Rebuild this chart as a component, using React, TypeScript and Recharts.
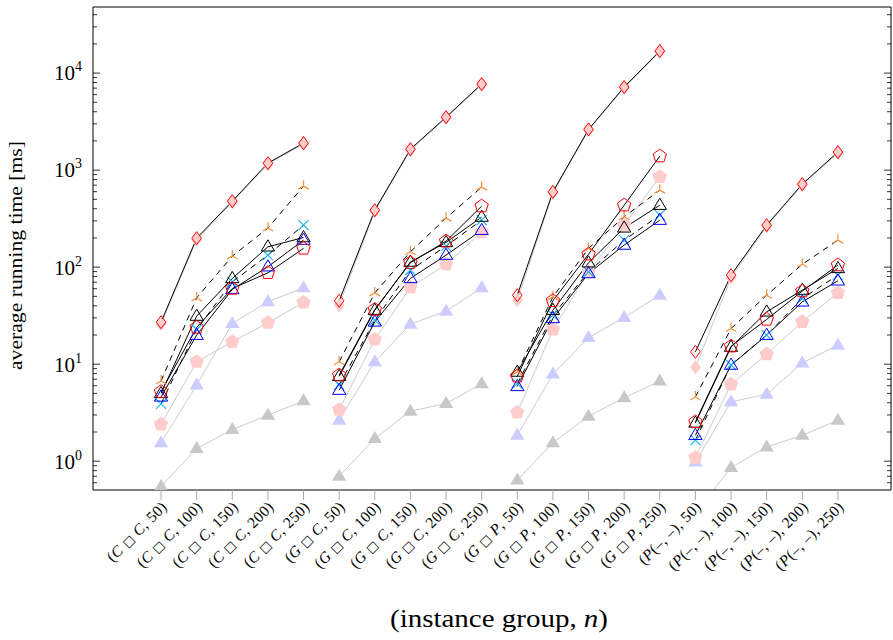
import React from 'react'
import { LineChart, Line, XAxis, YAxis, Label } from 'recharts'

// instance groups and sizes (x categories)
const groups = ['C □ C', 'G □ C', 'G □ P', 'P(–, –)']
const sizes = [50, 100, 150, 200, 250]

// running times [ms], 20 values per series (4 groups x 5 sizes)
const redDiamond = [27.1, 199, 479, 1180, 1900, 45, 387, 1645, 3520, 7710, 51.4, 597, 2630, 7180, 16900, 13.4, 82.7, 271, 718, 1535]
const pinkDiamond = [26, 192, 465, 1150, 1860, 40.5, 375, 1600, 3450, 7550, 45.7, 580, 2570, 7050, 16600, 9.3, 78, 262, 700, 1500]
const redPentagon = [5.2, 23.9, 60.3, 87.4, 156, 7.7, 36.6, 111, 185, 425, 7.5, 45, 136, 435, 1394, 2.54, 15.3, 28.9, 56.6, 105]
const pinkPentagon = [2.4, 10.6, 17.0, 26.7, 43.3, 3.4, 18, 61.8, 107, 230, 3.18, 22.8, 89.5, 271, 853, 1.09, 6.2, 12.7, 27.3, 54.3]
const blueTriangle = [4.6, 19.9, 58.9, 101, 190, 5.4, 27.3, 76.5, 133, 240, 5.9, 29.6, 86, 169, 305, 1.85, 9.8, 19.9, 43.9, 72.3]
const lavTriangle = [1.55, 6.1, 26.3, 43.9, 61.2, 2.65, 10.6, 25.8, 35.2, 61.2, 1.85, 7.9, 18.8, 30.3, 51.4, 0.98, 4.1, 4.9, 10.3, 15.7]
const blackTriangle = [5.0, 31.3, 76.5, 162, 202, 7.5, 36, 113, 180, 328, 8.3, 36, 111, 254, 435, 2.48, 15, 34.6, 58, 97]
const grayTriangle = [0.55, 1.35, 2.12, 2.98, 4.19, 0.7, 1.71, 3.28, 3.93, 6.3, 0.64, 1.55, 2.91, 4.5, 6.7, 0.29, 0.86, 1.4, 1.85, 2.65]
const cyanCross = [3.9, 22.8, 70.6, 133, 271, 6.1, 28.4, 93, 165, 305, 6.3, 32, 89.5, 190, 344, 1.65, 9.8, 19.9, 47.6, 82.7]
const orangeStar = [6.7, 48.2, 130, 253, 684, 10.6, 54.3, 144, 320, 668, 8.3, 49.4, 156, 330, 622, 4.6, 23.3, 51.4, 107, 190]

const yMajor = [1, 10, 100, 1000, 10000]

const SERIES: Record<string, number[]> = {
  redDiamond, pinkDiamond, redPentagon, pinkPentagon, blueTriangle,
  lavTriangle, blackTriangle, grayTriangle, cyanCross, orangeStar,
}

// one row per category, with an empty row between groups so lines break
const rows: any[] = []
for (let i = 0; i < groups.length * sizes.length; i++) {
  if (i > 0 && i % sizes.length === 0) rows.push({ x: i - 0.5 })
  const r: any = { x: i }
  for (const k of Object.keys(SERIES)) r[k] = SERIES[k][i]
  rows.push(r)
}

const xTicks = rows.filter(r => Number.isInteger(r.x)).map(r => r.x)
const yTicks: number[] = []
for (const m of [0.6, 0.7, 0.8, 0.9]) yTicks.push(m)
for (const p of yMajor) for (let m = 1; m <= 9; m++) if (p * m < 48000) yTicks.push(p * m)

const FONT = '"Liberation Serif", "DejaVu Serif", serif'
const X_DOMAIN = [-1.91, 20.49]
const Y_DOMAIN = [0.505, 48000]

const mark = (draw: (cx: number, cy: number) => React.ReactNode) => (p: any) => {
  const { cx, cy, value, index } = p
  if (cx == null || cy == null || value == null || !isFinite(cy)) return <g key={index} />
  return <g key={index}>{draw(cx, cy)}</g>
}

const diamond = (cx: number, cy: number) => `${cx},${cy - 6.5} ${cx + 4.8},${cy} ${cx},${cy + 6.5} ${cx - 4.8},${cy}`
const pentagon = (cx: number, cy: number, r: number) =>
  [0, 1, 2, 3, 4].map(k => {
    const a = -Math.PI / 2 + (k * 2 * Math.PI) / 5
    return `${cx + r * Math.cos(a)},${cy + r * Math.sin(a)}`
  }).join(' ')
const triangle = (cx: number, cy: number, r: number) =>
  `${cx},${cy - r} ${cx + r * 0.95},${cy + r * 0.6} ${cx - r * 0.95},${cy + r * 0.6}`

const dots: Record<string, any> = {
  redDiamond: mark((x, y) => <polygon points={diamond(x, y)} fill="none" stroke="#ff0000" strokeWidth={1} />),
  pinkDiamond: mark((x, y) => <polygon points={diamond(x, y)} fill="#ffcccc" stroke="#ffcccc" strokeWidth={1} />),
  redPentagon: mark((x, y) => <polygon points={pentagon(x, y, 7)} fill="none" stroke="#ff0000" strokeWidth={1} />),
  pinkPentagon: mark((x, y) => <polygon points={pentagon(x, y, 7.5)} fill="#ffcccc" />),
  blueTriangle: mark((x, y) => <polygon points={triangle(x, y, 7)} fill="none" stroke="#0000ff" strokeWidth={1} />),
  lavTriangle: mark((x, y) => <polygon points={triangle(x, y, 7.5)} fill="#ccccff" />),
  blackTriangle: mark((x, y) => <polygon points={triangle(x, y, 7)} fill="none" stroke="#000" strokeWidth={1} />),
  grayTriangle: mark((x, y) => <polygon points={triangle(x, y, 7.5)} fill="#c8c8c8" />),
  cyanCross: mark((x, y) => (
    <path d={`M${x - 5},${y - 5}L${x + 5},${y + 5}M${x - 5},${y + 5}L${x + 5},${y - 5}`} stroke="#1ab4f0" strokeWidth={1.2} />
  )),
  orangeStar: mark((x, y) => (
    <path d={`M${x},${y}L${x},${y - 6}M${x},${y}L${x - 5.2},${y + 3}M${x},${y}L${x + 5.2},${y + 3}`} stroke="#f5913c" strokeWidth={1.2} />
  )),
}

const XTick = ({ x, y, payload }: any) => {
  const i = payload.value
  const g = groups[Math.floor(i / sizes.length)]
  const n = sizes[i % sizes.length]
  const parts = (g.match(/[A-Z]|□|[^A-Z□]+/g) || []) as string[]
  return (
    <text transform={`translate(${x + 3},${y + 4}) rotate(-45)`} textAnchor="end" dy="0.35em" fontSize={15.5} letterSpacing={0.4}
      fontFamily={FONT} fill="#000">
      (
      {parts.map((s, k) =>
        /^[A-Z]$/.test(s) ? <tspan key={k} fontStyle="italic">{s}</tspan>
          : s === '□' ? <tspan key={k} fontFamily='"DejaVu Sans", sans-serif' fontSize={12}>{s}</tspan>
            : <tspan key={k}>{s}</tspan>)}
      , {n})
    </text>
  )
}

const isMajor = (v: number) => Math.abs(Math.log10(v) - Math.round(Math.log10(v))) < 1e-9

const YTick = ({ x, y, payload, side }: any) => {
  const v = payload.value
  const major = isMajor(v)
  const len = major ? 7 : 4
  const dir = side === 'right' ? -1 : 1
  return (
    <g>
      <line x1={x} x2={x + dir * len} y1={y} y2={y} stroke="#000" strokeWidth={0.8} />
      {major && side !== 'right' && (
        <text x={x - 11} y={y} dy="0.35em" textAnchor="end" fontSize={21} fontFamily={FONT} fill="#000">
          10<tspan dy={-9} fontSize={14}>{Math.round(Math.log10(v))}</tspan>
        </text>
      )}
    </g>
  )
}

const GRAY_LINES = ['lavTriangle', 'pinkPentagon', 'grayTriangle', 'pinkDiamond']
const BLACK_LINES = ['orangeStar', 'cyanCross', 'blueTriangle', 'blackTriangle', 'redPentagon', 'redDiamond']
const DASHED = ['orangeStar', 'cyanCross']

export default function App() {
  return (
    <div style={{ width: 893, height: 640, background: '#fff' }}>
      <style>{'body{margin:0}'}</style>
      <LineChart width={893} height={640} data={rows} margin={{ top: 6, right: 1, bottom: 120, left: 33 }}>
        <XAxis xAxisId="main" dataKey="x" type="number" domain={X_DOMAIN} allowDataOverflow ticks={xTicks} interval={0}
          height={30} tickSize={10} tickMargin={0} tickLine={{ stroke: '#aaaaaa' }} axisLine={{ stroke: '#000' }} tick={<XTick />}>
          <Label content={({ viewBox }: any) => (
            <text x={viewBox.x + viewBox.width / 2 + 7} y={490 + 137} textAnchor="middle" fontSize={25} fontFamily={FONT} fill="#000" textLength={218} lengthAdjust="spacingAndGlyphs">
              (instance group, <tspan fontStyle="italic">n</tspan>)
            </text>
          )} />
        </XAxis>
        <XAxis xAxisId="top" orientation="top" dataKey="x" type="number" domain={X_DOMAIN} allowDataOverflow height={1}
          tick={false} tickLine={false} axisLine={{ stroke: '#000' }} />
        <YAxis yAxisId="main" type="number" scale="log" domain={Y_DOMAIN} allowDataOverflow ticks={yTicks} interval={0}
          width={60} tickSize={0} tickMargin={0} tickLine={false} axisLine={{ stroke: '#000' }} tick={<YTick />}>
          <Label content={({ viewBox }: any) => {
            const cy = viewBox.y + viewBox.height / 2 + 7
            return (
              <text transform={`translate(16,${cy}) rotate(-90)`} textAnchor="middle" dy="0.35em" fontSize={18} fontFamily={FONT} fill="#000" textLength={229} lengthAdjust="spacingAndGlyphs">
                average running time [ms]
              </text>
            )
          }} />
        </YAxis>
        <YAxis yAxisId="right" orientation="right" type="number" scale="log" domain={Y_DOMAIN} allowDataOverflow ticks={yTicks} interval={0}
          width={1} tickSize={0} tickMargin={0} tickLine={false} axisLine={{ stroke: '#000' }} tick={<YTick side="right" />} />
        {GRAY_LINES.map(k => (
          <Line key={k} xAxisId="main" yAxisId="main" type="linear" dataKey={k} stroke="#cccccc" strokeWidth={1}
            dot={dots[k]} activeDot={false} isAnimationActive={false} connectNulls={false} />
        ))}
        {BLACK_LINES.map(k => (
          <Line key={k} xAxisId="main" yAxisId="main" type="linear" dataKey={k} stroke="#000" strokeWidth={1}
            strokeDasharray={DASHED.includes(k) ? '6 5' : undefined}
            dot={dots[k]} activeDot={false} isAnimationActive={false} connectNulls={false} />
        ))}
      </LineChart>
    </div>
  )
}
